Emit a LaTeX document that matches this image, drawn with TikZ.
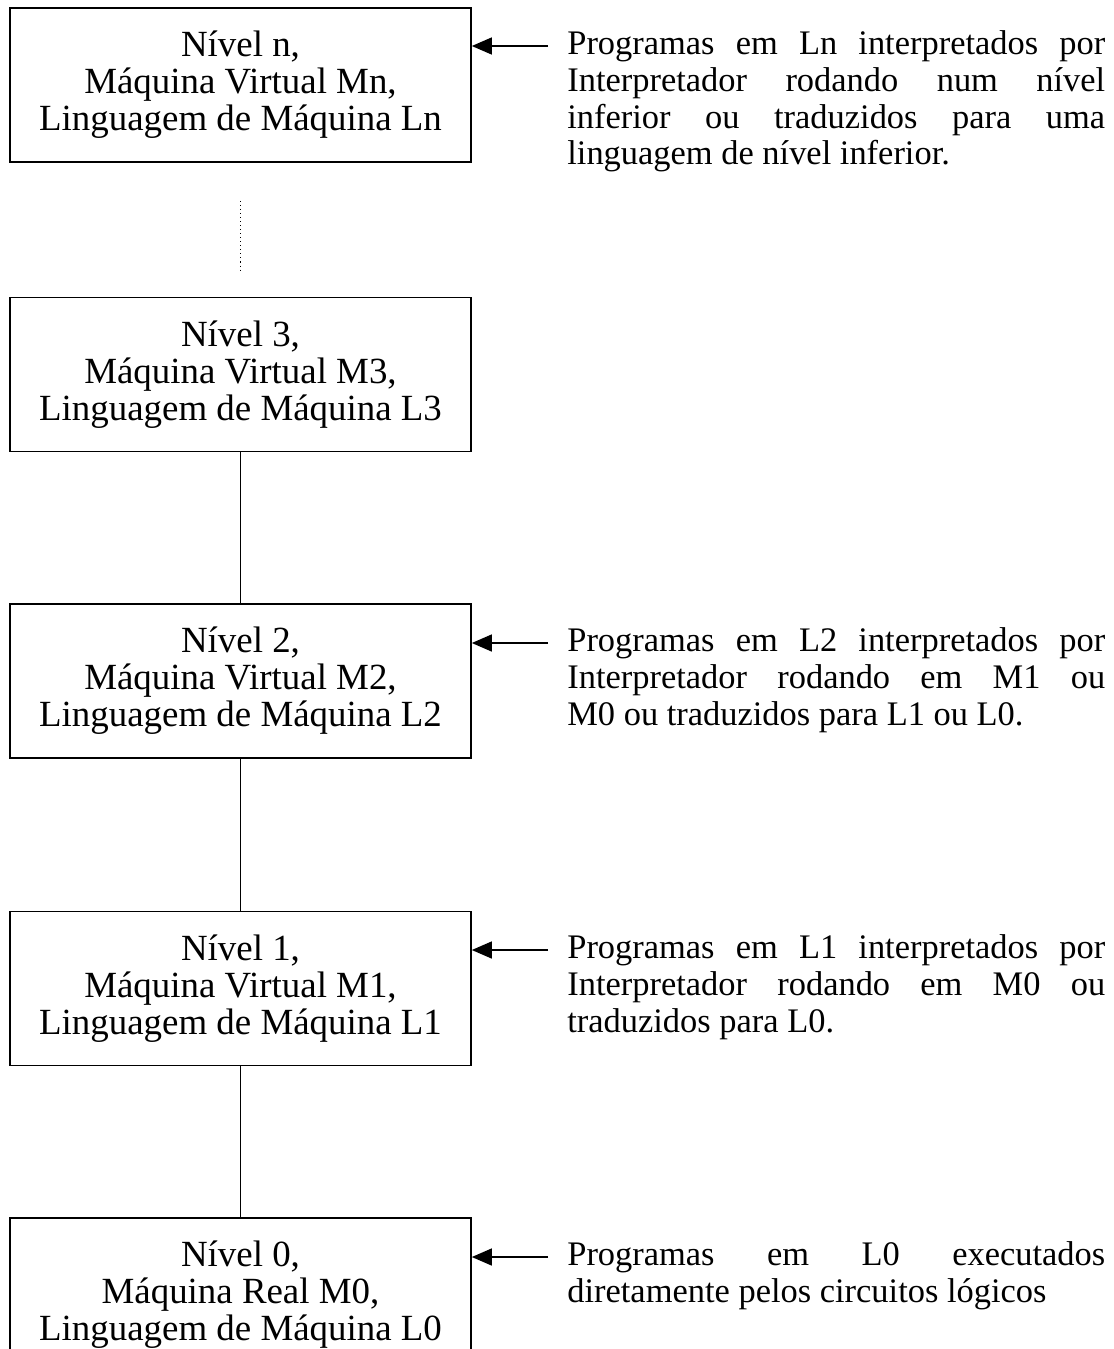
\documentclass[tikz,border=0pt]{standalone}
\usepackage{fontspec}
\setmainfont{Liberation Serif}
\usetikzlibrary{arrows.meta}

\begin{document}
\begin{tikzpicture}[x=0.02cm,y=-0.02cm,
    level/.style={draw,line width=1pt,minimum width=9.22cm,minimum height=3.08cm,
        align=center,inner sep=0pt,font=\fontsize{21}{21}\selectfont},
    note/.style={anchor=north west,inner sep=0pt,text width=10.76cm,align=justify,
        font=\fontsize{19.6}{21}\selectfont},
    arr/.style={line width=0.8pt,-{Triangle[length=0.4cm,width=0.34cm]}},
    link/.style={line width=0.8pt},
    dots/.style={line width=0.6pt,dash pattern=on 0.6pt off 1.7pt}]
            \useasboundingbox (0,0) rectangle (1114,1349);
            % levels
            \node (bn) at (240.5,85) [level] {Nível n,\\ Máquina Virtual Mn,\\ Linguagem de Máquina Ln};
            \node (b3) at (240.5,374.5) [level] {Nível 3,\\ Máquina Virtual M3,\\ Linguagem de Máquina L3};
            \node (b2) at (240.5,681) [level] {Nível 2,\\ Máquina Virtual M2,\\ Linguagem de Máquina L2};
            \node (b1) at (240.5,988.5) [level] {Nível 1,\\ Máquina Virtual M1,\\ Linguagem de Máquina L1};
            \node (b0) at (240.5,1295) [level] {Nível 0,\\ Máquina Real M0,\\ Linguagem de Máquina L0};
            \draw[dots,shorten <=0.76cm,shorten >=0.48cm] (bn) -- (b3);
            \draw[link] (b3) -- (b2) (b2) -- (b1) (b1) -- (b0);
            % notes
            \node (tn) at (567,30) [note] {Programas em Ln interpretados por\linebreak Interpretador rodando num nível\linebreak inferior ou traduzidos para uma\linebreak linguagem de nível inferior.};
            \node (t2) at (567,627) [note] {Programas em L2 interpretados por\linebreak Interpretador rodando em M1 ou\linebreak M0 ou traduzidos para L1 ou L0.};
            \node (t1) at (567,934) [note] {Programas em L1 interpretados por\linebreak Interpretador rodando em M0 ou\linebreak traduzidos para L0.};
            \node (t0) at (567,1241) [note] {Programas em L0 executados\linebreak diretamente pelos circuitos lógicos};
            \coordinate (an) at (548,46);
            \coordinate (a2) at (548,643);
            \coordinate (a1) at (548,950);
            \coordinate (a0) at (548,1257);
            \draw[arr] (an) -- (an -| bn.east);
            \draw[arr] (a2) -- (a2 -| b2.east);
            \draw[arr] (a1) -- (a1 -| b1.east);
            \draw[arr] (a0) -- (a0 -| b0.east);
        \end{tikzpicture}
\end{document}
